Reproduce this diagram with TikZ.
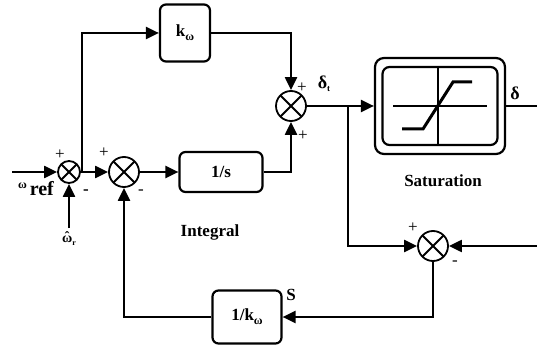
\documentclass[tikz,border=0pt]{standalone}
\usepackage{fontspec}
\setmainfont{Liberation Serif}
\usetikzlibrary{arrows.meta}
\begin{document}
\begin{tikzpicture}[x=1pt,y=-1pt,
  line width=2.2pt,
  arr/.style={-{Triangle[length=13pt,width=12pt]}},
  sumnode/.style={circle,draw,line width=1.8pt,minimum size=#1,inner sep=0pt,
    path picture={\draw[line width=1.8pt]
      (path picture bounding box.north west)--(path picture bounding box.south east)
      (path picture bounding box.north east)--(path picture bounding box.south west);}},
  blk/.style={draw,line width=2.2pt,rounded corners=6pt,inner sep=0pt,font=\bfseries\fontsize{17}{19}\selectfont},
  lbl/.style={font=\bfseries\fontsize{17}{19}\selectfont,inner sep=0pt},
  sgn/.style={font=\fontsize{17}{17}\selectfont,inner sep=0pt}
]
\useasboundingbox (0,0) rectangle (537,347);
% nodes
\node[sumnode=22pt] (s1) at (69,172) {};
\node[sumnode=30pt] (s2) at (124,172) {};
\node[sumnode=30pt] (s3) at (291,106) {};
\node[sumnode=30pt] (s4) at (433,246) {};
\node[blk,minimum width=50pt,minimum height=57pt] (kw) at (185,33) {k\raisebox{-4pt}{\fontsize{12}{12}\selectfont ω}};
\node[blk,minimum width=83pt,minimum height=40pt] (integ) at (221,172) {1/s};
\node[blk,minimum width=69pt,minimum height=53pt] (kinv) at (247,317) {1/k\raisebox{-4pt}{\fontsize{12}{12}\selectfont ω}};
\node[draw,line width=2.2pt,rounded corners=9pt,minimum width=130pt,minimum height=96pt] (sat) at (440,106) {};
\node[draw,line width=2.2pt,rounded corners=7pt,minimum width=115pt,minimum height=78pt] (sati) at (440,106) {};
% saturation symbol
\draw[line width=1.2pt] (393,106) -- (487,106);
\draw[line width=1.2pt] (438,67) -- (438,145);
\draw[line width=3pt] (402,129) -- (423,129) -- (453,82) -- (472,82);
% coordinates
\coordinate (in1) at (12,172);
\coordinate (in2) at (69,228);
\coordinate (b1) at (82,172);
\coordinate (b2) at (348,106);
\coordinate (in3) at (537,246);
\coordinate (out) at (537,106);
% connectors
\draw[arr] (in1) -- (s1.west);
\draw[arr] (in2) -- (s1.south);
\draw[arr] (s1.east) -- (s2.west);
\draw[arr] (b1) |- (kw.west);
\draw[arr] (kw.east) -| (s3.north);
\draw[arr] (s2.east) -- (integ.west);
\draw[arr] (integ.east) -| (s3.south);
\draw[arr] (s3.east) -- (sat.west);
\draw[arr] (b2) |- (s4.west);
\draw[arr] (in3) -- (s4.east);
\draw[arr] (s4.south) |- (kinv.east);
\draw[arr] (kinv.west) -| (s2.south);
\draw (sat.east) -- (out);
% signs
\node[sgn] (p1) at (60,155) {+};
\node[sgn,font=\bfseries\fontsize{17}{17}\selectfont] (m1) at (86,192) {-};
\node[sgn] (p2) at (104,153) {+};
\node[sgn] (m2) at (141,192) {-};
\node[sgn] (p3) at (302,88) {+};
\node[sgn] (p4) at (303,136) {+};
\node[sgn] (p5) at (413,228) {+};
\node[sgn] (m4) at (455,263) {-};
% labels
\node[lbl] (wref) at (36,189) {\raisebox{7pt}{\fontsize{12}{12}\selectfont ω}\,\fontsize{20}{20}\selectfont ref};
\node[lbl] (wr) at (69,241) {\fontsize{14}{14}\selectfont \ooalign{ω\cr\hidewidth\raisebox{1pt}{ˆ}\hidewidth\cr}\raisebox{-3pt}{\fontsize{8}{8}\selectfont r}};
\node[lbl] (dt) at (324,84) {\fontsize{18}{18}\selectfont δ\raisebox{-3pt}{\fontsize{9}{9}\selectfont t}};
\node[lbl] (d) at (515,93) {\fontsize{18}{18}\selectfont δ};
\node[lbl] (satl) at (443,181) {Saturation};
\node[lbl] (intl) at (210,232) {Integral};
\node[lbl] (sl) at (291,295) {S};
\end{tikzpicture}
\end{document}
